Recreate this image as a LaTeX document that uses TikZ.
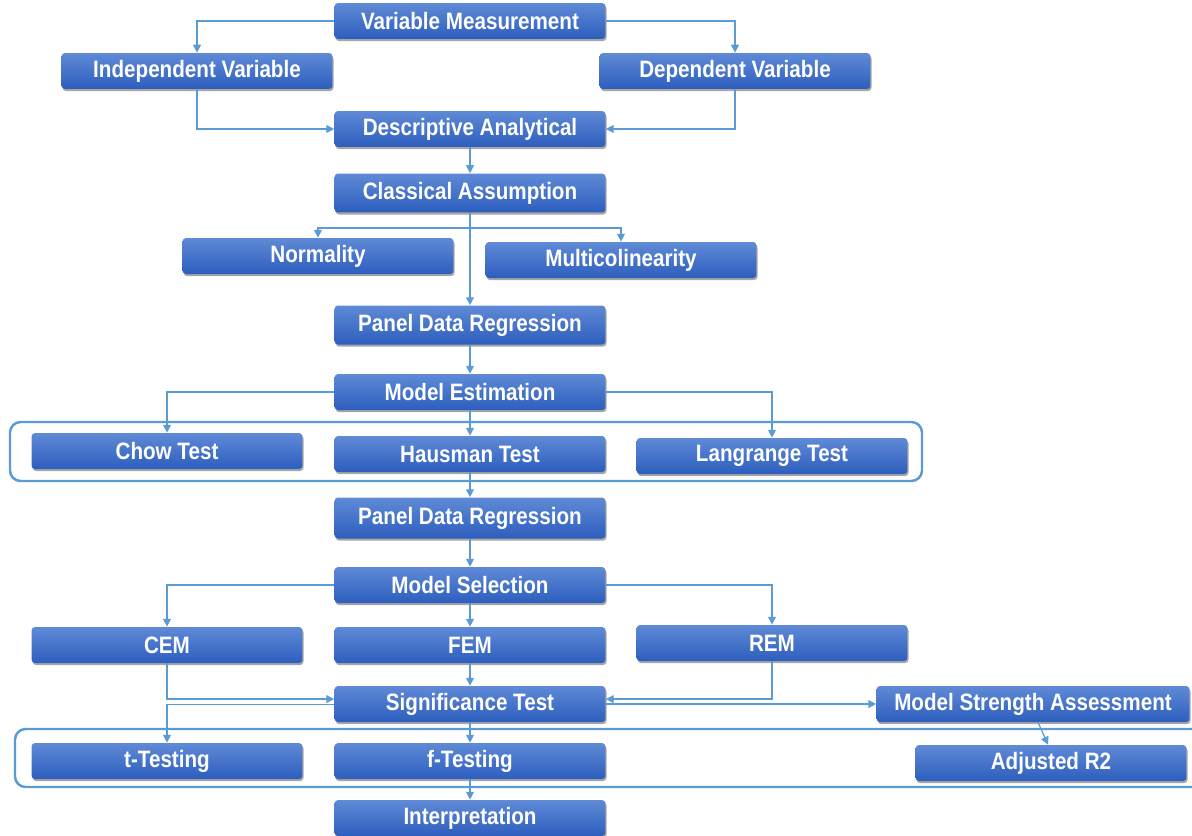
\documentclass[tikz,border=0pt]{standalone}
\usepackage{fontspec}
\setmainfont{Liberation Sans}[FakeStretch=0.87]
\usetikzlibrary{arrows.meta, shadows}

\definecolor{boxtop}{HTML}{5F8AD6}
\definecolor{boxbot}{HTML}{2D5EBE}
\definecolor{linkblue}{HTML}{5B9BD5}

\begin{document}
\begin{tikzpicture}[x=0.02cm, y=-0.02cm,
  box/.style={rectangle, rounded corners=2pt, minimum width=5.42cm, minimum height=0.72cm,
    top color=boxtop, bottom color=boxbot, text=white, inner sep=0pt,
    font=\fontsize{13.5}{15}\selectfont\bfseries,
    drop shadow={shadow xshift=0.6pt, shadow yshift=-1.2pt, opacity=0.35, fill=black}},
  arr/.style={-{Triangle[length=4.5pt, width=4.5pt]}, draw=linkblue, line width=0.7pt},
  grp/.style={draw=linkblue, line width=1.4pt, rounded corners=6pt}]
  \useasboundingbox (0,0) rectangle (1192,835);

  % grouped tests
  \draw [grp] (10,422) rectangle (922,481);
  \draw [grp] (15,729) rectangle (1220,787);

  \node (vm) [box] at (470,21) {Variable Measurement};
  \node (iv) [box] at (197,71) {Independent Variable};
  \node (dv) [box] at (735,71) {Dependent Variable};
  \node (da) [box] at (470,129) {Descriptive Analytical};
  \node (ca) [box, minimum height=0.78cm] at (470,193) {Classical Assumption};
  \node (norm) [box] at (318,256) {Normality};
  \node (multi) [box] at (621,260) {Multicolinearity};
  \node (pdr1) [box, minimum height=0.78cm] at (470,325) {Panel Data Regression};
  \node (me) [box] at (470,392) {Model Estimation};
  \node (chow) [box] at (167,451) {Chow Test};
  \node (haus) [box] at (470,454) {Hausman Test};
  \node (lang) [box] at (772,456) {Langrange Test};
  \node (pdr2) [box, minimum height=0.82cm] at (470,518) {Panel Data Regression};
  \node (ms) [box] at (470,585) {Model Selection};
  \node (cem) [box] at (167,645) {CEM};
  \node (fem) [box] at (470,645) {FEM};
  \node (rem) [box] at (772,643) {REM};
  \node (sig) [box] at (470,704) {Significance Test};
  \node (msa) [box, minimum width=6.26cm] at (1033,704) {Model Strength Assessment};
  \node (tt) [box] at (167,761) {t-Testing};
  \node (ft) [box] at (470,761) {f-Testing};
  \node (adj) [box] at (1051,763) {Adjusted R2};
  \node (interp) [box] at (470,818) {Interpretation};

  \coordinate (split) at (470,228);

  \draw [arr] (vm.west) -| (iv.north);
  \draw [arr] (vm.east) -| (dv.north);
  \draw [arr] (iv.south) |- (da.west);
  \draw [arr] (dv.south) |- (da.east);
  \draw [arr] (da) -- (ca);
  \draw [arr] (ca) -- (pdr1);
  \draw [arr] (split) -| (norm.north);
  \draw [arr] (split) -| (multi.north);
  \draw [arr] (pdr1) -- (me);
  \draw [arr] (me.west) -| (chow.north);
  \draw [arr] (me.east) -| (lang.north);
  \draw [arr] (me) -- (haus);
  \draw [arr] (haus) -- (pdr2);
  \draw [arr] (pdr2) -- (ms);
  \draw [arr] (ms.west) -| (cem.north);
  \draw [arr] (ms.east) -| (rem.north);
  \draw [arr] (ms) -- (fem);
  \draw [arr] (cem.south) |- ([yshift=2.8pt]sig.west);
  \draw [arr] (rem.south) |- ([yshift=2.8pt]sig.east);
  \draw [arr] (fem) -- (sig);
  \draw [arr] ([yshift=-0.3pt]sig.west) -| (tt.north);
  \draw [arr] (sig.east) -- (msa.west);
  \draw [arr] (sig) -- (ft);
  \draw [arr] ([xshift=0.1cm]msa.south) -- ([xshift=-0.06cm]adj.north);
  \draw [arr] (ft) -- (interp);
\end{tikzpicture}
\end{document}
